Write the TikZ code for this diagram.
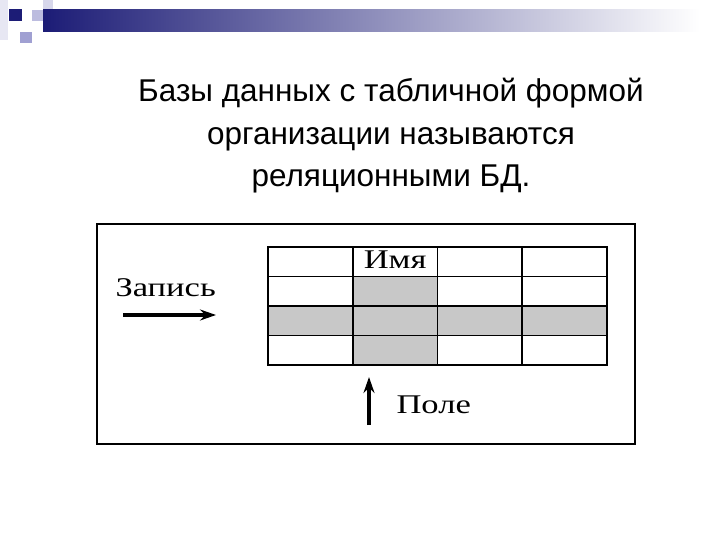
\documentclass[tikz,border=0pt]{standalone}
\usepackage{fontspec}
\setmainfont{Liberation Serif}
\newfontfamily\titlefont{Liberation Sans}
\newfontfamily\scanfont[FakeStretch=1.28]{Liberation Serif}
\usetikzlibrary{arrows.meta}

\definecolor{navy}{RGB}{28,28,118}
\definecolor{lavender}{RGB}{160,160,210}
\definecolor{palelav}{RGB}{215,215,235}
\definecolor{cellgray}{RGB}{200,200,200}

\begin{document}
\begin{tikzpicture}[
    x=1pt, y=-1pt,
    title/.style={font=\titlefont\fontsize{31.5}{42.5}\selectfont, align=center},
    label/.style={font=\scanfont\fontsize{27}{30}\selectfont},
    cell/.style={draw, line width=1.6pt, minimum width=84.75pt, minimum height=29.5pt,
                 inner sep=0pt, outer sep=0pt},
    hicell/.style={cell, fill=cellgray},
    arrow/.style={-{Stealth[length=16pt, width=11pt]}, line width=3.2pt}
]
\useasboundingbox (0,0) rectangle (720,540);

%--------
% slide decoration (top left)
%--------
\fill[palelav!60] (0,0) rectangle (8,40);
\fill[palelav] (43,0) rectangle (53,10);
\fill[lavender!70] (32,10) rectangle (43,21);
\fill[lavender] (20,32) rectangle (32,43);
\shade[left color=navy, right color=white] (43,10) rectangle (700,32);
\fill[navy] (9,9) rectangle (22,21);

%--------
% heading
%--------
\node[title] (head) at (391,136)
    {Базы данных с табличной формой\\организации называются\\реляционными БД.};

%--------
% frame and table
%--------
\draw[line width=2.2pt] (97,224) rectangle (635,444);

\foreach \c in {1,...,4} {
  \foreach \r in {1,...,4} {
    \node[cell] (c\c\r) at ({268+84.75*(\c-0.5)}, {247+29.5*(\r-0.5)}) {};
  }
}
% shaded row and column
\foreach \c in {1,...,4}
  \node[hicell] at (c\c3) {};
\node[hicell] at (c22) {};
\node[hicell] at (c24) {};
\node[hicell] at (c23) {};

\node[label, anchor=base] (name) at ([yshift=-6.5pt]c21.center) {Имя};

%--------
% labels with arrows
%--------
\node[label, anchor=base west] (rec) at (112,296) {Запись};
\coordinate (recA) at (123,315);
\coordinate (recB) at (216,315);
\draw[arrow] (recA) -- (recB);

\node[label, anchor=base west] (fld) at (393,413) {Поле};
\coordinate (fldA) at (369,425);
\coordinate (fldB) at (369,377);
\draw[arrow] (fldA) -- (fldB);

\end{tikzpicture}
\end{document}
